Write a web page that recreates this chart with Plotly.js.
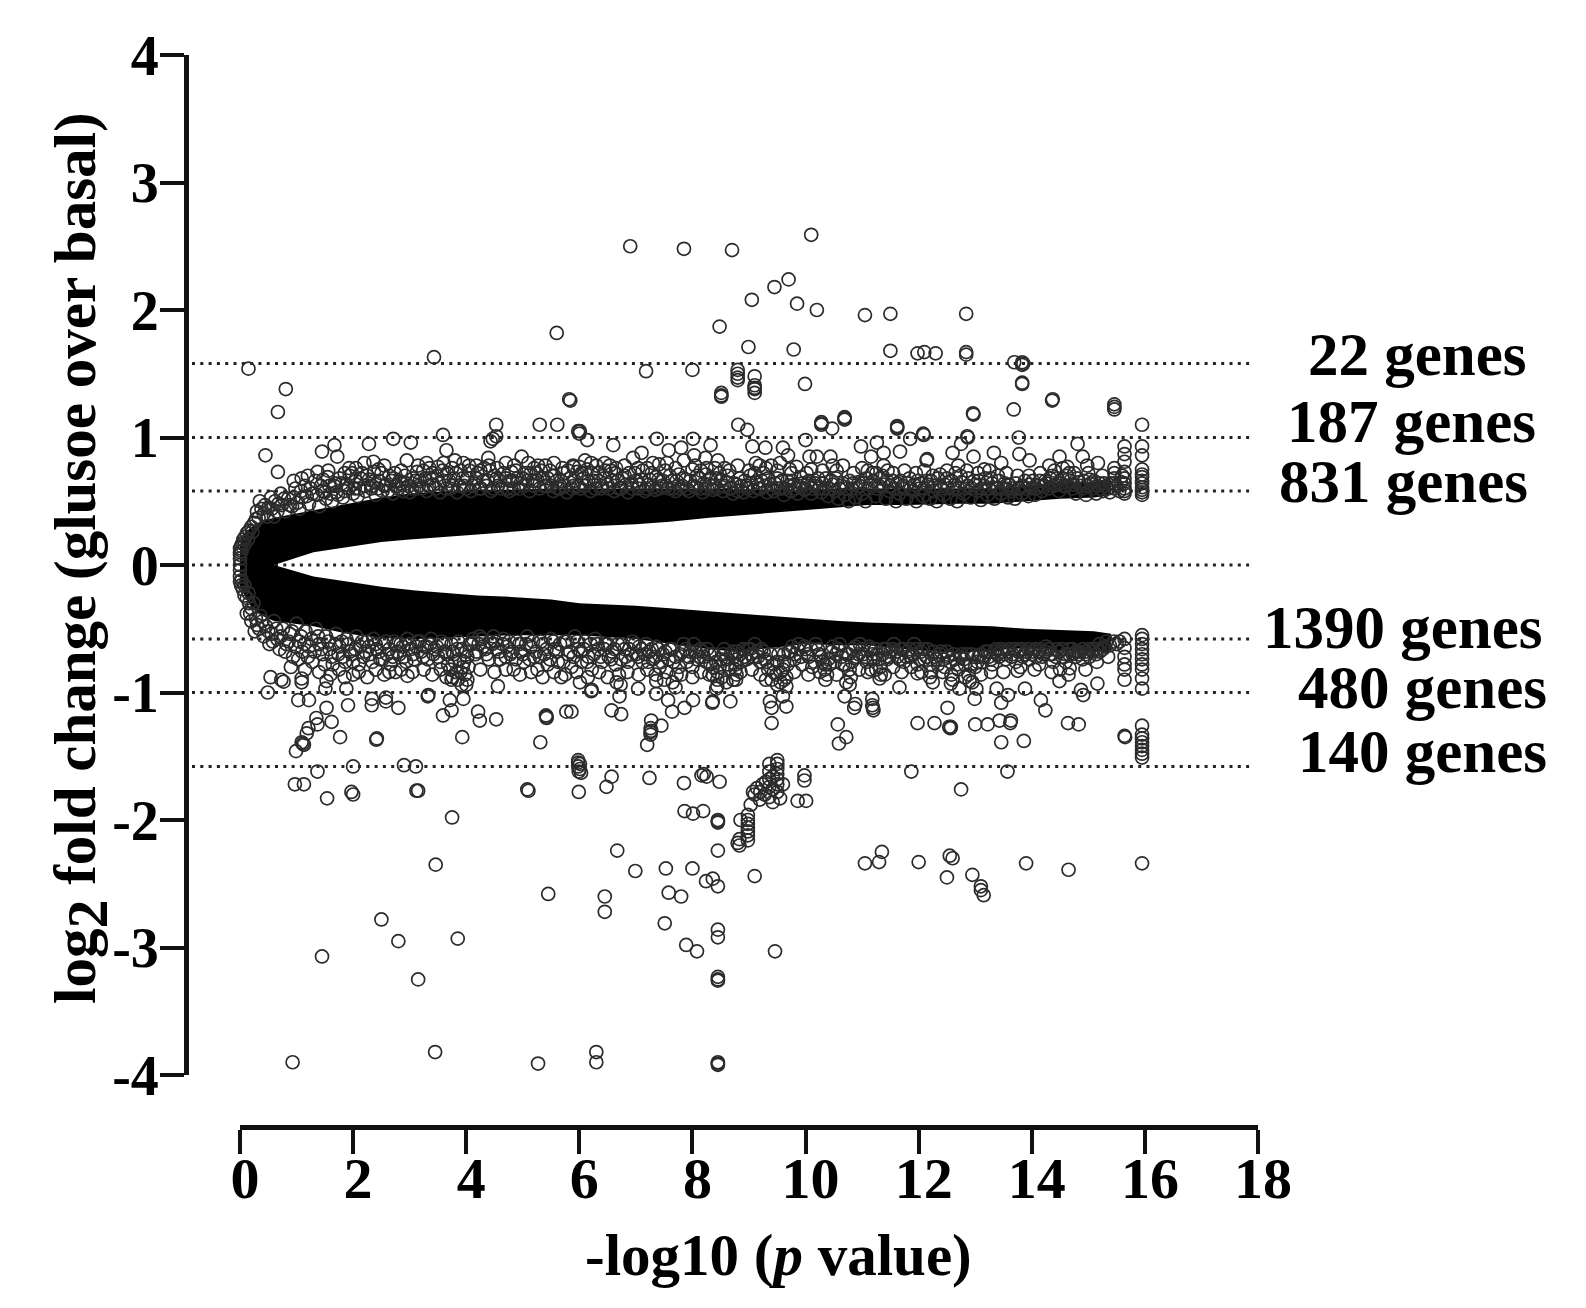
<!DOCTYPE html>
<html><head><meta charset="utf-8">
<script src="https://cdn.plot.ly/plotly-3.0.1.min.js"></script>
<style>html,body{margin:0;padding:0;background:#fff}</style></head>
<body><div id="chart" style="width:1586px;height:1308px"></div>
<script>
// Values
const xTickValues=[0,2,4,6,8,10,12,14,16,18];
const xTickLabels=['0','2','4','6','8','10','12','14','16','18'];
const yTickValues=[4,3,2,1,0,-1,-2,-3,-4];
const yTickLabels=['4','3','2','1','0','-1','-2','-3','-4'];
const thresholds=[1.58,1,0.58,0,-0.58,-1,-1.58];
const geneLabels=['22 genes','187 genes','831 genes','1390 genes','480 genes','140 genes'];
const xAxisTitle='-log10 (<i>p</i> value)';
const yAxisTitle='log<sub><span style="font-size:58px">2</span></sub> fold change (glusoe over basal)';

// Solid masses where the circles merge into black: x, inner edge, outer edge
const bandUpperX=[0.0,0.1,0.3,0.6,1.3,2.0,2.5,3.0,3.7,4.2,4.8,5.5,6.0,7.0,7.6,8.3,9.4,10.0,10.6,11.1,11.8,12.7,13.3,13.9,14.5,15.1,15.4];
const bandUpperIn=[0.0,0.0,0.0,0.0,0.1,0.15,0.18,0.2,0.22,0.24,0.26,0.28,0.3,0.32,0.34,0.37,0.41,0.43,0.45,0.47,0.47,0.48,0.48,0.5,0.52,0.53,0.55];
const bandUpperOut=[0.16,0.26,0.33,0.37,0.43,0.49,0.53,0.56,0.58,0.59,0.59,0.6,0.6,0.6,0.6,0.6,0.59,0.59,0.6,0.6,0.6,0.6,0.6,0.62,0.65,0.65,0.66];
const bandLowerX=[0.0,0.2,0.4,0.6,1.3,1.9,2.5,3.1,3.7,4.2,4.8,5.5,6.0,7.0,7.6,8.3,8.8,9.4,10.0,10.6,11.1,11.8,12.7,13.3,13.9,14.5,15.1,15.4];
const bandLowerIn=[0.0,0.0,0.0,0.0,-0.09,-0.13,-0.17,-0.2,-0.22,-0.24,-0.25,-0.27,-0.3,-0.32,-0.34,-0.36,-0.38,-0.4,-0.42,-0.44,-0.45,-0.46,-0.47,-0.48,-0.5,-0.51,-0.52,-0.54];
const bandLowerOut=[-0.18,-0.33,-0.4,-0.44,-0.48,-0.54,-0.57,-0.58,-0.57,-0.56,-0.55,-0.55,-0.55,-0.58,-0.62,-0.66,-0.68,-0.65,-0.62,-0.63,-0.63,-0.66,-0.69,-0.67,-0.65,-0.67,-0.68,-0.68];

// Individually readable circles, [x, y]
const outliersUp=[[0.15,1.54],[3.43,1.63],[0.81,1.38],[0.67,1.2],[0.45,0.86],[0.67,0.73],[5.6,1.82],[5.82,1.3],[5.84,1.29],[4.53,1.1],[5.3,1.1],[5.61,1.1],[5.98,1.05],[6.0,1.03],[4.53,1.01],[4.43,0.97],[4.47,0.99],[3.59,1.02],[3.65,0.9],[3.02,0.96],[2.71,0.99],[2.28,0.95],[1.67,0.94],[1.45,0.89],[1.72,0.85],[2.36,0.81],[2.37,0.73],[1.37,0.73],[1.09,0.68],[1.47,0.67],[1.68,0.64],[1.93,0.76],[2.71,0.68],[3.3,0.8],[3.13,0.73],[3.5,0.77],[3.95,0.8],[4.18,0.78],[4.39,0.84],[4.98,0.85],[5.27,0.78],[5.52,0.7],[4.8,0.73],[5.89,0.78],
[6.9,2.5],[7.85,2.48],[8.7,2.47],[10.1,2.59],[9.45,2.18],[9.7,2.24],[9.85,2.05],[10.2,2.0],[9.05,2.08],[8.48,1.87],[8.99,1.71],[9.79,1.69],[7.18,1.52],[8.0,1.53],[8.8,1.53],[8.8,1.5],[8.8,1.47],[8.8,1.45],[9.1,1.48],[9.1,1.41],[9.1,1.38],[9.1,1.35],[9.1,1.39],[8.51,1.35],[8.51,1.32],[8.51,1.33],[9.99,1.42],[6.01,1.05],[6.14,0.98],[6.6,0.94],[7.37,0.99],[8.01,0.99],[7.1,0.88],[7.58,0.9],[7.8,0.92],[8.32,0.94],[8.03,0.86],[8.23,0.84],[8.81,1.1],[8.97,1.06],[9.06,0.93],[9.29,0.92],[9.6,0.92],[9.69,0.86],[10.0,0.98],[10.28,1.12],[10.28,1.1],[10.28,1.11],[10.47,1.07],[10.69,1.16],[10.69,1.14],[10.69,1.15],[10.98,0.93],[10.07,0.85],[10.2,0.85],[10.44,0.85],[10.48,0.78],[10.66,0.78],[9.19,0.78],[9.39,0.78],[8.57,0.76],[7.41,0.79],[8.25,0.76],[9.72,0.75],[9.84,0.77],[10.1,0.75],[7.04,0.76],[6.54,0.78],[6.21,0.8],[5.9,0.77],
[11.05,1.96],[11.5,1.97],[11.5,1.68],[11.98,1.66],[12.1,1.67],[12.3,1.66],[12.84,1.97],[12.84,1.67],[12.84,1.65],[13.69,1.59],[13.83,1.59],[13.83,1.57],[13.85,1.58],[13.83,1.43],[13.83,1.42],[14.36,1.29],[14.37,1.3],[12.96,1.19],[12.97,1.18],[13.68,1.22],[15.46,1.26],[15.46,1.24],[15.46,1.22],[15.95,1.1],[11.62,1.09],[11.62,1.07],[11.62,1.08],[11.85,0.99],[12.08,1.03],[12.09,1.02],[12.86,1.01],[12.87,1.0],[13.77,1.0],[14.81,0.95],[11.26,0.96],[11.67,0.89],[11.16,0.85],[11.38,0.88],[12.14,0.82],[12.15,0.83],[12.6,0.88],[12.75,0.95],[12.97,0.85],[13.33,0.88],[13.78,0.87],[13.96,0.82],[14.49,0.85],[14.9,0.85],[14.98,0.78],[15.17,0.8],[15.64,0.93],[15.64,0.87],[15.64,0.81],[15.64,0.73],[15.95,0.93],[15.95,0.86],[15.95,0.75],[15.95,0.69],[15.95,0.64],[15.95,0.59],[15.95,0.55],[15.95,0.71],[15.95,0.66],[15.95,0.61],[15.95,0.57],[15.46,0.76],[12.38,0.71],[11.38,0.78],[12.7,0.78],[13.46,0.8],[13.16,0.75],[14.31,0.78],[14.63,0.77]];
const outliersDown=[[0.54,-0.88],[0.77,-0.915],[0.73,-0.9],[0.49,-1.0],[1.09,-0.89],[1.09,-0.92],[1.53,-0.91],[1.51,-0.97],[2.0,-0.86],[2.96,-0.87],[2.64,-0.84],[1.88,-0.97],[1.03,-1.06],[1.22,-1.06],[1.53,-1.12],[1.91,-1.1],[2.33,-1.05],[2.33,-1.1],[2.58,-1.04],[2.58,-1.07],[2.8,-1.12],[3.32,-1.03],[3.33,-1.02],[3.71,-1.06],[3.74,-1.14],[3.59,-1.18],[3.95,-1.05],[3.74,-0.9],[3.76,-0.88],[4.0,-0.94],[4.56,-0.95],[4.21,-1.15],[4.24,-1.22],[4.53,-1.21],[5.42,-1.19],[5.42,-1.2],[5.41,-1.18],[5.77,-1.15],[5.31,-1.39],[3.93,-1.35],[2.41,-1.37],[2.42,-1.36],[1.77,-1.35],[1.62,-1.23],[1.35,-1.2],[1.37,-1.25],[1.21,-1.28],[1.18,-1.32],[1.09,-1.39],[1.13,-1.41],[1.11,-1.4],[0.99,-1.46],[1.37,-1.62],[1.13,-1.72],[2.0,-1.58],[2.9,-1.57],[3.11,-1.58],[1.97,-1.78],[3.12,-1.77],[5.08,-1.76],[5.98,-1.53],[5.98,-1.58],[5.98,-1.55],[5.99,-1.62],[1.54,-1.83],
[6.21,-0.99],[6.22,-0.98],[6.01,-0.92],[6.57,-1.14],[6.74,-1.17],[7.04,-0.97],[6.71,-1.03],[6.73,-0.94],[7.36,-1.01],[7.36,-0.91],[7.57,-1.06],[7.64,-1.15],[7.86,-1.12],[8.01,-1.06],[7.7,-0.96],[7.27,-1.22],[7.45,-1.26],[7.26,-1.28],[7.26,-1.31],[7.26,-1.33],[7.27,-1.3],[7.2,-1.41],[6.01,-1.56],[6.01,-1.6],[6.03,-1.63],[5.86,-1.15],[8.35,-1.08],[8.36,-1.07],[8.67,-1.07],[8.42,-0.97],[8.44,-0.95],[9.4,-1.24],[9.4,-1.12],[9.37,-1.07],[9.66,-1.11],[9.6,-1.03],[9.66,-0.95],[10.57,-1.25],[10.72,-1.35],[10.59,-1.4],[10.86,-1.12],[10.88,-1.09],[10.69,-1.03],[10.78,-0.94],[8.77,-0.9],[8.36,-0.86],[6.57,-1.66],[7.24,-1.67],[7.85,-1.71],[8.16,-1.65],[8.2,-1.64],[8.25,-1.66],[8.48,-1.7],[9.98,-1.65],
[5.99,-1.78],[6.48,-1.74],[6.67,-2.24],[6.99,-2.4],[7.53,-2.38],[8.0,-2.38],[6.45,-2.6],[6.45,-2.72],[7.58,-2.57],[7.8,-2.6],[7.51,-2.81],[7.89,-2.98],[8.08,-3.03],[8.45,-2.24],[8.24,-2.48],[8.36,-2.46],[8.45,-2.52],[9.1,-2.44],[9.46,-3.03],[8.45,-2.86],[8.45,-2.92],[8.45,-3.23],[8.45,-3.25],[8.45,-3.26],[8.45,-3.9],[8.45,-3.91],[8.45,-3.92],[6.3,-3.82],[6.3,-3.9],[7.86,-1.93],[8.01,-1.95],[8.19,-1.93],[8.45,-2.0],[8.45,-2.02],[8.45,-2.01],[8.85,-2.0],[8.83,-2.2],[8.8,-2.18],[8.83,-2.15],[8.98,-2.16],[8.98,-2.09],[8.98,-2.03],[8.98,-1.96],[8.98,-2.12],[8.98,-2.06],[8.98,-2.0],[9.03,-1.88],[9.19,-1.84],[9.07,-1.78],[9.1,-1.8],[9.14,-1.75],[9.2,-1.78],[9.24,-1.72],[9.3,-1.7],[9.28,-1.8],[9.36,-1.56],[9.36,-1.62],[9.36,-1.68],[9.36,-1.74],[9.36,-1.82],[9.42,-1.66],[9.42,-1.76],[9.42,-1.86],[9.5,-1.53],[9.5,-1.56],[9.5,-1.6],[9.5,-1.64],[9.5,-1.68],[9.5,-1.72],[9.5,-1.78],[9.55,-1.83],[9.6,-1.72],[9.86,-1.85],[10.01,-1.85],[9.98,-1.69],
[11.66,-0.96],[11.18,-1.05],[11.18,-1.1],[11.2,-1.14],[11.19,-1.12],[12.51,-1.12],[11.98,-1.24],[12.28,-1.24],[12.54,-1.27],[12.56,-1.28],[12.57,-1.27],[13.0,-1.25],[13.22,-1.25],[13.43,-1.22],[13.63,-1.22],[13.62,-1.24],[13.46,-1.39],[13.86,-1.38],[11.87,-1.62],[13.57,-1.62],[12.75,-1.76],[12.99,-1.05],[13.02,-0.97],[13.38,-0.97],[13.58,-1.02],[13.46,-1.08],[13.88,-0.97],[14.16,-1.06],[14.24,-1.14],[14.64,-1.24],[14.83,-1.25],[14.87,-0.98],[14.91,-1.02],[15.16,-0.93],[14.49,-0.91],[13.75,-0.83],[14.13,-0.78],[14.67,-0.81],[15.64,-0.9],[15.64,-0.82],[15.64,-0.72],[15.64,-0.58],[15.64,-0.65],[15.64,-0.78],[15.64,-1.34],[15.65,-1.35],[15.95,-1.26],[15.95,-0.97],[15.95,-0.89],[15.95,-0.82],[15.95,-0.78],[15.95,-0.74],[15.95,-0.7],[15.95,-0.66],[15.95,-0.62],[15.95,-0.58],[15.95,-0.55],[15.95,-1.33],[15.95,-1.36],[15.95,-1.39],[15.95,-1.42],[15.95,-1.45],[15.95,-1.48],[15.95,-1.51],[12.25,-0.92],[12.57,-0.93],[12.9,-0.91],[12.72,-0.97],[11.31,-0.89],[11.33,-0.86],[11.98,-0.85],[11.16,-0.82],[11.87,-0.8],
[2.5,-2.78],[2.8,-2.95],[1.45,-3.07],[3.15,-3.25],[3.45,-3.82],[0.93,-3.9],[5.27,-3.91],[3.46,-2.35],[3.85,-2.93],[3.75,-1.98],[3.15,-1.77],[2.0,-1.8],[0.97,-1.72],[5.1,-1.77],[5.45,-2.58],[11.05,-2.34],[11.3,-2.33],[11.35,-2.25],[12.0,-2.33],[12.5,-2.45],[12.55,-2.28],[12.6,-2.3],[12.95,-2.43],[13.1,-2.52],[13.1,-2.55],[13.15,-2.59],[13.9,-2.34],[14.65,-2.39],[15.95,-2.34]];

// Estimated circles in the speckled fringe next to the solid masses, [x, y]
const fringeUp=[[-0.02,0.03],[-0.02,-0.03],[0.0,0.1],[0.02,0.15],[0.06,0.2],[0.12,0.25],[0.2,0.3],[0.28,0.36],[0.3,0.42],[0.35,0.5],[0.42,0.4],[0.5,0.45],[0.55,0.53],[0.6,0.38],[0.68,0.48],[0.72,0.56],[0.8,0.42],[0.85,0.52],[0.92,0.46],[0.98,0.6],[1.05,0.44],[1.1,0.53],[1.15,0.62],[1.22,0.48],[1.28,0.56],[1.33,0.66],[1.4,0.46],[1.46,0.58],[1.52,0.52],[1.58,0.62],[1.63,0.5],[1.7,0.57],[1.76,0.68],[1.82,0.53],[1.88,0.63],[1.94,0.7],[2.0,0.56],[2.05,0.66],[2.1,0.6],[2.16,0.72],[2.22,0.58],[2.28,0.67],[2.34,0.62],[2.4,0.55],[2.46,0.66],[2.52,0.58],[2.58,0.63],[2.64,0.7],[2.7,0.56],[2.76,0.62],[2.82,0.66],[2.88,0.58],[2.94,0.64],[3.0,0.57],[3.06,0.68],[3.12,0.6],[3.18,0.66],[3.24,0.74],[3.3,0.58],[3.36,0.68],[3.42,0.63],[3.48,0.7],[3.54,0.57],[3.6,0.66],[3.66,0.72],[3.72,0.6],[3.78,0.68],[3.84,0.57],[3.9,0.74],[3.96,0.62],[4.02,0.68],[4.08,0.58],[4.14,0.64],[4.2,0.72],[4.26,0.6],[4.32,0.76],[4.38,0.66],[4.44,0.58],[4.5,0.7],[4.56,0.62],[4.62,0.6],[4.7,0.68],[4.76,0.58],[4.82,0.66],[4.88,0.74],[4.94,0.6],[5.0,0.68],[5.06,0.72],[5.12,0.58],[5.18,0.66],[5.24,0.72],[5.3,0.6],[5.36,0.68],[5.42,0.62],[5.48,0.74],[5.54,0.58],[5.6,0.66],[5.66,0.6],[5.72,0.72],[5.78,0.57],[5.84,0.68],[5.9,0.62],[5.96,0.73],[6.02,0.6],[6.08,0.68],[6.14,0.75],[6.2,0.58],[6.26,0.66],[6.32,0.72],[6.38,0.6],[6.44,0.68],[6.5,0.63],[6.56,0.74],[6.62,0.58],[6.68,0.66],[6.74,0.6],[6.8,0.7],[6.86,0.57],[6.92,0.64],[6.98,0.72],[7.04,0.6],[7.1,0.67],[7.16,0.58],[7.22,0.63],[7.28,0.72],[7.34,0.59],[7.4,0.67],[7.46,0.62],[7.52,0.74],[7.58,0.6],[7.64,0.66],[7.7,0.58],[7.76,0.71],[7.82,0.62],[7.88,0.67],[7.94,0.58],[8.0,0.75],[8.06,0.61],[8.12,0.68],[8.18,0.57],[8.24,0.71],[8.3,0.63],[8.36,0.59],[8.42,0.68],[8.48,0.72],[8.54,0.58],[8.6,0.65],[8.66,0.6],[8.72,0.56],[8.78,0.63],[8.84,0.68],[8.9,0.57],[8.96,0.62],[9.02,0.7],[9.08,0.58],[9.14,0.65],[9.2,0.6],[9.26,0.72],[9.32,0.57],[9.38,0.63],[9.44,0.58],[9.5,0.68],[9.56,0.6],[9.62,0.55],[9.68,0.66],[9.74,0.58],[9.8,0.63],[9.86,0.56],[9.92,0.69],[9.98,0.59],[10.04,0.64],[10.1,0.56],[10.16,0.62],[10.22,0.68],[10.28,0.57],[10.34,0.6],[10.4,0.54],[10.46,0.66],[10.52,0.58],[10.58,0.52],[10.64,0.62],[10.7,0.55],[10.76,0.5],[10.82,0.6],[10.88,0.53],[10.94,0.65],[11.0,0.56],[11.06,0.5],[11.12,0.6],[11.18,0.72],[11.24,0.54],[11.3,0.62],[11.36,0.7],[11.42,0.52],[11.48,0.58],[11.54,0.66],[11.6,0.5],[11.66,0.56],[11.72,0.62],[11.78,0.52],[11.84,0.68],[11.9,0.58],[11.96,0.5],[12.02,0.6],[12.08,0.54],[12.14,0.66],[12.2,0.52],[12.26,0.58],[12.32,0.5],[12.38,0.62],[12.44,0.55],[12.5,0.68],[12.56,0.52],[12.62,0.6],[12.68,0.5],[12.74,0.7],[12.8,0.56],[12.86,0.62],[12.92,0.53],[12.98,0.66],[13.04,0.58],[13.1,0.51],[13.16,0.62],[13.22,0.55],[13.28,0.68],[13.34,0.52],[13.4,0.6],[13.46,0.56],[13.52,0.64],[13.58,0.53],[13.64,0.58],[13.7,0.52],[13.76,0.6],[13.82,0.56],[13.88,0.66],[13.94,0.54],[14.0,0.6],[14.06,0.55],[14.12,0.62],[14.18,0.58],[14.24,0.66],[14.3,0.6],[14.36,0.7],[14.42,0.63],[14.48,0.58],[14.54,0.68],[14.6,0.62],[14.66,0.72],[14.72,0.6],[14.78,0.56],[14.84,0.65],[14.9,0.6],[14.96,0.55],[15.02,0.67],[15.08,0.6],[15.14,0.56],[15.2,0.64],[15.26,0.58],[15.32,0.62],[15.38,0.57],[15.46,0.6],[15.46,0.64],[15.46,0.68],[15.64,0.56],[15.64,0.6],[15.64,0.64],[15.64,0.68],[15.55,0.58]];
const fringeUp2=[[0.0,0.0],[0.0,0.05],[0.0,0.08],[0.0,0.13],[0.03,0.11],[0.04,0.17],[0.08,0.16],[0.09,0.22],[0.14,0.2],[0.16,0.27],[0.22,0.26],[0.25,0.33],[0.33,0.37],[0.38,0.44],[0.44,0.47],[0.48,0.38],[0.56,0.44],[0.62,0.5],[0.66,0.42],[0.74,0.47],[0.78,0.52],[0.88,0.47],[0.95,0.53],[1.02,0.49],[1.08,0.58],[1.18,0.54],[1.25,0.6],[1.36,0.55],[1.43,0.62],[1.5,0.57],[1.55,0.69],[1.6,0.56],[1.67,0.62],[1.73,0.55],[1.8,0.64],[1.85,0.58],[1.92,0.6],[1.98,0.72],[2.03,0.6],[2.08,0.54],[2.13,0.68],[2.2,0.62],[2.25,0.7],[2.32,0.6],[2.38,0.66],[2.44,0.6],[2.5,0.72],[2.56,0.62],[2.62,0.58],[2.68,0.66],[2.74,0.72],[2.8,0.6],[2.86,0.64],[2.92,0.7],[2.98,0.62],[3.04,0.6],[3.1,0.66],[3.16,0.62],[3.22,0.6],[3.28,0.68],[3.34,0.62],[3.4,0.72],[3.46,0.6],[3.52,0.64],[3.58,0.74],[3.64,0.6],[3.7,0.66],[3.76,0.62],[3.82,0.72],[3.88,0.62],[3.94,0.68],[4.0,0.6],[4.06,0.74],[4.12,0.62],[4.18,0.68],[4.24,0.6],[4.3,0.66],[4.36,0.62],[4.42,0.74],[4.48,0.6],[4.54,0.68],[4.6,0.66],[4.66,0.72],[4.72,0.6],[4.78,0.66],[4.84,0.6],[4.9,0.68],[4.96,0.64],[5.02,0.62],[5.08,0.66],[5.14,0.72],[5.2,0.62],[5.26,0.66],[5.32,0.74],[5.38,0.62],[5.44,0.68],[5.5,0.62],[5.56,0.7],[5.62,0.6],[5.68,0.66],[5.74,0.62],[5.8,0.74],[5.86,0.6],[5.92,0.66],[5.98,0.62],[6.04,0.72],[6.1,0.62],[6.16,0.66],[6.22,0.72],[6.28,0.6],[6.34,0.66],[6.4,0.62],[6.46,0.74],[6.52,0.6],[6.58,0.66],[6.64,0.72],[6.7,0.6],[6.76,0.68],[6.82,0.63],[6.88,0.72],[6.94,0.6],[7.0,0.66],[7.06,0.63],[7.12,0.74],[7.18,0.6],[7.24,0.67],[7.3,0.61],[7.36,0.69],[7.42,0.6],[7.48,0.66],[7.54,0.62],[7.6,0.7],[7.66,0.6],[7.72,0.66],[7.78,0.6],[7.84,0.68],[7.9,0.6],[7.96,0.66],[8.02,0.62],[8.08,0.7],[8.14,0.6],[8.2,0.64],[8.26,0.6],[8.32,0.68],[8.38,0.62],[8.44,0.6],[8.5,0.66],[8.56,0.62],[8.62,0.7],[8.68,0.6],[8.74,0.64],[8.8,0.58],[8.86,0.62],[8.92,0.66],[8.98,0.6],[9.04,0.64],[9.1,0.72],[9.16,0.6],[9.22,0.66],[9.28,0.62],[9.34,0.68],[9.4,0.6],[9.46,0.64],[9.52,0.6],[9.58,0.66],[9.64,0.6],[9.7,0.62],[9.76,0.66],[9.82,0.6],[9.88,0.62],[9.94,0.64],[10.0,0.6],[10.06,0.66],[10.12,0.6],[10.18,0.64],[10.24,0.6],[10.3,0.64],[10.36,0.68],[10.42,0.6],[10.48,0.63],[10.54,0.68],[10.6,0.6],[10.66,0.64],[10.72,0.6],[10.78,0.66],[10.84,0.64],[10.9,0.6],[10.96,0.62],[11.02,0.64],[11.08,0.68],[11.14,0.63],[11.2,0.66],[11.26,0.6],[11.32,0.68],[11.38,0.63],[11.44,0.66],[11.5,0.62],[11.56,0.6],[11.62,0.64],[11.68,0.66],[11.74,0.6],[11.8,0.64],[11.86,0.6],[11.92,0.63],[11.98,0.66],[12.04,0.64],[12.1,0.6],[12.16,0.63],[12.22,0.66],[12.28,0.62],[12.34,0.68],[12.4,0.6],[12.46,0.63],[12.52,0.6],[12.58,0.66],[12.64,0.63],[12.7,0.6],[12.76,0.65],[12.82,0.6],[12.88,0.68],[12.94,0.6],[13.0,0.63],[13.06,0.66],[13.12,0.6],[13.18,0.68],[13.24,0.6],[13.3,0.64],[13.36,0.6],[13.42,0.66],[13.48,0.6],[13.54,0.6],[13.6,0.63],[13.66,0.6],[13.72,0.64],[13.78,0.6],[13.84,0.62],[13.9,0.6],[13.96,0.63],[14.02,0.66],[14.08,0.6],[14.14,0.66],[14.2,0.62],[14.26,0.64],[14.32,0.68],[14.38,0.62],[14.44,0.68],[14.5,0.64],[14.56,0.62],[14.62,0.7],[14.68,0.66],[14.74,0.63],[14.8,0.68],[14.86,0.62],[14.92,0.66],[14.98,0.62],[15.04,0.64],[15.1,0.66],[15.16,0.62],[15.22,0.6],[15.28,0.64],[15.34,0.6],[15.4,0.64],[15.5,0.62],[15.58,0.65],[15.64,0.58]];
const fringeUp3=[[0.95,0.66],[1.2,0.7],[1.56,0.74],[1.85,0.72],[2.05,0.76],[2.2,0.8],[2.45,0.75],[2.55,0.78],[2.85,0.74],[2.95,0.82],[3.15,0.78],[3.35,0.76],[3.6,0.8],[3.75,0.76],[3.8,0.82],[4.05,0.78],[4.25,0.74],[4.4,0.78],[4.55,0.76],[4.7,0.8],[4.85,0.78],[5.1,0.8],[5.2,0.76],[5.4,0.78],[5.55,0.8],[5.7,0.76],[6.0,0.77],[6.1,0.82],[6.3,0.78],[6.45,0.8],[6.65,0.76],[6.8,0.78],[6.95,0.84],[7.2,0.76],[7.3,0.8],[7.55,0.8],[7.7,0.76],[7.85,0.82],[8.05,0.78],[8.15,0.74],[8.4,0.76],[8.45,0.82],[8.65,0.74],[8.8,0.78],[9.0,0.74],[9.12,0.8],[9.3,0.76],[9.5,0.74],[9.55,0.8],[9.75,0.72],[10.02,0.72],[10.3,0.74],[10.55,0.74],[10.85,0.72],[11.0,0.76],[11.1,0.74],[11.25,0.72],[11.45,0.74],[11.55,0.72],[11.75,0.74],[11.95,0.72],[12.1,0.74],[12.25,0.7],[12.5,0.74],[12.65,0.72],[12.85,0.74],[13.05,0.72],[13.25,0.74],[13.4,0.7],[13.55,0.72],[13.75,0.7],[13.95,0.7],[14.15,0.72],[14.4,0.74],[14.55,0.76],[14.75,0.72],[15.0,0.72],[15.25,0.7],[15.46,0.72],[15.6,0.7]];
const fringeDown=[[0.02,-0.16],[0.08,-0.24],[0.16,-0.3],[0.2,-0.34],[0.12,-0.38],[0.2,-0.44],[0.26,-0.52],[0.3,-0.47],[0.36,-0.4],[0.42,-0.56],[0.46,-0.48],[0.52,-0.62],[0.56,-0.54],[0.6,-0.44],[0.66,-0.58],[0.7,-0.66],[0.76,-0.5],[0.82,-0.62],[0.88,-0.54],[0.94,-0.72],[1.0,-0.46],[1.05,-0.6],[1.1,-0.68],[1.16,-0.52],[1.22,-0.64],[1.28,-0.76],[1.34,-0.5],[1.4,-0.62],[1.46,-0.7],[1.52,-0.56],[1.58,-0.66],[1.64,-0.78],[1.7,-0.54],[1.76,-0.64],[1.82,-0.72],[1.88,-0.58],[1.94,-0.68],[2.0,-0.76],[2.06,-0.56],[2.12,-0.64],[2.18,-0.72],[2.24,-0.6],[2.3,-0.7],[2.36,-0.58],[2.42,-0.66],[2.48,-0.74],[2.54,-0.62],[2.6,-0.7],[2.66,-0.78],[2.72,-0.6],[2.78,-0.68],[2.84,-0.62],[2.9,-0.72],[2.96,-0.58],[3.02,-0.66],[3.08,-0.74],[3.14,-0.6],[3.2,-0.68],[3.26,-0.64],[3.32,-0.74],[3.38,-0.58],[3.44,-0.66],[3.5,-0.72],[3.56,-0.6],[3.62,-0.68],[3.68,-0.78],[3.74,-0.62],[3.78,-0.7],[3.82,-0.84],[3.86,-0.6],[3.88,-0.74],[3.92,-0.66],[3.94,-0.8],[3.98,-0.86],[4.02,-0.72],[4.06,-0.62],[4.12,-0.58],[4.18,-0.68],[4.24,-0.56],[4.3,-0.64],[4.36,-0.7],[4.42,-0.6],[4.48,-0.56],[4.54,-0.66],[4.6,-0.74],[4.66,-0.58],[4.72,-0.64],[4.78,-0.7],[4.84,-0.82],[4.9,-0.6],[4.96,-0.68],[5.02,-0.76],[5.08,-0.56],[5.14,-0.64],[5.2,-0.72],[5.26,-0.82],[5.32,-0.6],[5.38,-0.7],[5.44,-0.78],[5.5,-0.58],[5.56,-0.66],[5.62,-0.76],[5.68,-0.88],[5.74,-0.6],[5.8,-0.7],[5.86,-0.8],[5.92,-0.56],[5.98,-0.66],[6.04,-0.76],[6.1,-0.6],[6.16,-0.72],[6.22,-0.82],[6.28,-0.58],[6.34,-0.66],[6.4,-0.76],[6.46,-0.62],[6.52,-0.72],[6.58,-0.68],[6.64,-0.78],[6.7,-0.86],[6.76,-0.62],[6.82,-0.72],[6.88,-0.66],[6.94,-0.6],[7.0,-0.7],[7.06,-0.64],[7.12,-0.76],[7.18,-0.62],[7.24,-0.68],[7.3,-0.74],[7.36,-0.64],[7.42,-0.8],[7.48,-0.7],[7.54,-0.84],[7.6,-0.66],[7.66,-0.76],[7.72,-0.86],[7.78,-0.7],[7.84,-0.62],[7.9,-0.76],[7.96,-0.68],[8.02,-0.62],[8.08,-0.74],[8.14,-0.66],[8.2,-0.72],[8.26,-0.66],[8.32,-0.78],[8.38,-0.7],[8.44,-0.84],[8.44,-0.9],[8.5,-0.74],[8.56,-0.66],[8.62,-0.78],[8.68,-0.7],[8.74,-0.72],[8.76,-0.78],[8.76,-0.82],[8.78,-0.86],[8.8,-0.68],[8.86,-0.76],[8.92,-0.72],[8.98,-0.66],[9.04,-0.7],[9.1,-0.62],[9.16,-0.72],[9.22,-0.66],[9.28,-0.74],[9.34,-0.82],[9.4,-0.9],[9.44,-0.78],[9.48,-0.86],[9.52,-0.7],[9.56,-0.92],[9.6,-0.82],[9.62,-0.76],[9.66,-0.88],[9.7,-0.68],[9.76,-0.64],[9.82,-0.7],[9.88,-0.62],[9.94,-0.78],[10.0,-0.66],[10.06,-0.72],[10.12,-0.8],[10.18,-0.62],[10.24,-0.7],[10.3,-0.76],[10.34,-0.82],[10.38,-0.86],[10.42,-0.78],[10.48,-0.64],[10.54,-0.7],[10.6,-0.62],[10.66,-0.78],[10.72,-0.7],[10.78,-0.82],[10.8,-0.88],[10.84,-0.66],[10.9,-0.72],[10.96,-0.62],[11.02,-0.7],[11.08,-0.76],[11.14,-0.66],[11.2,-0.74],[11.26,-0.7],[11.32,-0.8],[11.38,-0.66],[11.44,-0.74],[11.5,-0.68],[11.56,-0.62],[11.62,-0.72],[11.68,-0.66],[11.74,-0.76],[11.8,-0.68],[11.86,-0.72],[11.92,-0.62],[11.98,-0.78],[12.04,-0.68],[12.1,-0.74],[12.16,-0.66],[12.22,-0.84],[12.28,-0.72],[12.34,-0.78],[12.4,-0.68],[12.46,-0.8],[12.52,-0.72],[12.58,-0.86],[12.64,-0.74],[12.7,-0.82],[12.76,-0.7],[12.82,-0.78],[12.88,-0.86],[12.94,-0.7],[13.0,-0.8],[13.06,-0.72],[13.12,-0.76],[13.18,-0.68],[13.24,-0.72],[13.3,-0.78],[13.36,-0.66],[13.42,-0.72],[13.48,-0.68],[13.54,-0.74],[13.6,-0.66],[13.66,-0.7],[13.72,-0.76],[13.78,-0.66],[13.84,-0.72],[13.9,-0.68],[13.96,-0.74],[14.02,-0.68],[14.08,-0.72],[14.14,-0.66],[14.2,-0.7],[14.26,-0.64],[14.32,-0.7],[14.38,-0.76],[14.44,-0.66],[14.5,-0.82],[14.54,-0.72],[14.6,-0.76],[14.66,-0.7],[14.72,-0.66],[14.78,-0.72],[14.84,-0.68],[14.9,-0.74],[14.96,-0.68],[15.02,-0.72],[15.08,-0.66],[15.14,-0.7],[15.2,-0.62],[15.26,-0.66],[15.32,-0.6],[15.38,-0.63]];
const fringeDown2=[[0.0,-0.04],[0.0,-0.09],[0.0,-0.13],[0.03,-0.12],[0.05,-0.19],[0.08,-0.16],[0.12,-0.26],[0.15,-0.22],[0.18,-0.38],[0.24,-0.3],[0.28,-0.42],[0.34,-0.5],[0.4,-0.44],[0.5,-0.52],[0.58,-0.6],[0.64,-0.5],[0.72,-0.56],[0.8,-0.68],[0.86,-0.6],[0.92,-0.52],[0.98,-0.64],[1.03,-0.74],[1.08,-0.56],[1.14,-0.62],[1.2,-0.72],[1.26,-0.58],[1.32,-0.68],[1.38,-0.56],[1.44,-0.66],[1.5,-0.78],[1.56,-0.6],[1.62,-0.72],[1.68,-0.62],[1.74,-0.7],[1.8,-0.6],[1.86,-0.76],[1.92,-0.62],[1.98,-0.7],[2.04,-0.66],[2.1,-0.78],[2.16,-0.6],[2.22,-0.68],[2.28,-0.64],[2.34,-0.76],[2.4,-0.62],[2.46,-0.68],[2.52,-0.74],[2.58,-0.6],[2.64,-0.66],[2.7,-0.72],[2.76,-0.62],[2.82,-0.7],[2.88,-0.64],[2.94,-0.76],[3.0,-0.62],[3.06,-0.7],[3.12,-0.64],[3.18,-0.6],[3.24,-0.72],[3.3,-0.64],[3.36,-0.62],[3.42,-0.7],[3.48,-0.64],[3.54,-0.76],[3.6,-0.62],[3.66,-0.7],[3.72,-0.82],[3.76,-0.68],[3.8,-0.76],[3.84,-0.66],[3.9,-0.84],[3.96,-0.76],[4.0,-0.68],[4.04,-0.8],[4.1,-0.62],[4.16,-0.7],[4.22,-0.62],[4.28,-0.58],[4.34,-0.66],[4.4,-0.74],[4.46,-0.62],[4.52,-0.6],[4.58,-0.68],[4.64,-0.62],[4.7,-0.72],[4.76,-0.6],[4.82,-0.68],[4.88,-0.74],[4.94,-0.62],[5.0,-0.7],[5.06,-0.62],[5.12,-0.74],[5.18,-0.6],[5.24,-0.68],[5.3,-0.72],[5.36,-0.62],[5.42,-0.66],[5.48,-0.74],[5.54,-0.6],[5.6,-0.68],[5.66,-0.62],[5.72,-0.76],[5.78,-0.6],[5.84,-0.68],[5.9,-0.72],[5.96,-0.6],[6.02,-0.68],[6.08,-0.66],[6.14,-0.76],[6.2,-0.62],[6.26,-0.7],[6.32,-0.62],[6.38,-0.72],[6.44,-0.66],[6.5,-0.62],[6.56,-0.74],[6.62,-0.66],[6.68,-0.62],[6.74,-0.74],[6.8,-0.66],[6.86,-0.76],[6.92,-0.7],[6.98,-0.62],[7.04,-0.72],[7.1,-0.66],[7.16,-0.7],[7.22,-0.76],[7.28,-0.66],[7.34,-0.72],[7.4,-0.66],[7.46,-0.76],[7.52,-0.68],[7.58,-0.74],[7.64,-0.66],[7.7,-0.72],[7.76,-0.8],[7.82,-0.68],[7.88,-0.66],[7.94,-0.72],[8.0,-0.8],[8.06,-0.68],[8.12,-0.72],[8.18,-0.68],[8.24,-0.76],[8.3,-0.7],[8.36,-0.8],[8.42,-0.76],[8.48,-0.8],[8.54,-0.7],[8.6,-0.74],[8.66,-0.82],[8.72,-0.68],[8.78,-0.74],[8.84,-0.7],[8.9,-0.66],[8.96,-0.74],[9.02,-0.66],[9.08,-0.72],[9.14,-0.68],[9.2,-0.76],[9.26,-0.68],[9.32,-0.76],[9.38,-0.7],[9.44,-0.84],[9.5,-0.76],[9.56,-0.84],[9.62,-0.7],[9.68,-0.78],[9.74,-0.68],[9.8,-0.74],[9.86,-0.66],[9.92,-0.72],[9.98,-0.64],[10.04,-0.7],[10.1,-0.66],[10.16,-0.76],[10.22,-0.66],[10.28,-0.72],[10.34,-0.78],[10.4,-0.74],[10.46,-0.68],[10.52,-0.76],[10.58,-0.66],[10.64,-0.72],[10.7,-0.78],[10.76,-0.7],[10.82,-0.76],[10.88,-0.64],[10.94,-0.7],[11.0,-0.66],[11.06,-0.72],[11.12,-0.64],[11.18,-0.7],[11.24,-0.66],[11.3,-0.74],[11.36,-0.7],[11.42,-0.66],[11.48,-0.72],[11.54,-0.66],[11.6,-0.68],[11.66,-0.74],[11.72,-0.66],[11.78,-0.72],[11.84,-0.66],[11.9,-0.7],[11.96,-0.66],[12.02,-0.74],[12.08,-0.66],[12.14,-0.72],[12.2,-0.78],[12.26,-0.68],[12.32,-0.74],[12.38,-0.7],[12.44,-0.74],[12.5,-0.68],[12.56,-0.76],[12.62,-0.7],[12.68,-0.78],[12.74,-0.72],[12.8,-0.74],[12.86,-0.7],[12.92,-0.78],[12.98,-0.72],[13.04,-0.76],[13.1,-0.7],[13.16,-0.72],[13.22,-0.68],[13.28,-0.74],[13.34,-0.68],[13.4,-0.7],[13.46,-0.66],[13.52,-0.7],[13.58,-0.68],[13.64,-0.72],[13.7,-0.66],[13.76,-0.68],[13.82,-0.66],[13.88,-0.7],[13.94,-0.66],[14.0,-0.7],[14.06,-0.66],[14.12,-0.68],[14.18,-0.72],[14.24,-0.68],[14.3,-0.66],[14.36,-0.7],[14.42,-0.72],[14.48,-0.68],[14.54,-0.66],[14.6,-0.7],[14.66,-0.66],[14.72,-0.7],[14.78,-0.68],[14.84,-0.7],[14.9,-0.66],[14.96,-0.7],[15.02,-0.66],[15.08,-0.68],[15.14,-0.66],[15.2,-0.68],[15.3,-0.64],[15.45,-0.6],[15.5,-0.62],[15.55,-0.6]];
const fringeDown3=[[0.9,-0.8],[1.15,-0.82],[1.4,-0.84],[1.6,-0.86],[1.75,-0.82],[1.85,-0.88],[2.1,-0.84],[2.25,-0.88],[2.4,-0.82],[2.55,-0.86],[2.75,-0.84],[2.85,-0.82],[3.05,-0.84],[3.25,-0.82],[3.4,-0.86],[3.55,-0.82],[3.65,-0.88],[3.85,-0.9],[3.92,-0.94],[4.02,-0.9],[4.25,-0.82],[4.5,-0.84],[4.7,-0.82],[4.95,-0.86],[5.15,-0.84],[5.35,-0.88],[5.55,-0.84],[5.75,-0.86],[5.95,-0.84],[6.15,-0.88],[6.35,-0.84],[6.5,-0.88],[6.66,-0.92],[6.85,-0.84],[7.05,-0.86],[7.2,-0.82],[7.35,-0.86],[7.5,-0.9],[7.65,-0.92],[7.8,-0.86],[8.0,-0.88],[8.15,-0.84],[8.3,-0.86],[8.52,-0.88],[8.6,-0.92],[8.72,-0.9],[8.85,-0.84],[9.05,-0.82],[9.2,-0.86],[9.3,-0.9],[9.5,-0.94],[9.62,-0.9],[9.8,-0.84],[10.05,-0.86],[10.25,-0.84],[10.35,-0.9],[10.55,-0.86],[10.72,-0.92],[10.95,-0.82],[11.1,-0.84],[11.25,-0.82],[11.4,-0.86],[11.55,-0.8],[11.7,-0.84],[12.05,-0.84],[12.2,-0.88],[12.42,-0.84],[12.6,-0.9],[12.82,-0.88],[12.95,-0.92],[13.1,-0.86],[13.28,-0.84],[13.5,-0.84],[13.8,-0.8],[14.05,-0.82],[14.35,-0.84],[14.65,-0.86],[14.95,-0.82],[15.15,-0.76],[15.35,-0.72]];

const circleStyle={symbol:'circle-open',size:13,color:'#2b2b2b',line:{width:1.7,color:'#2b2b2b'}};
const serif='"Liberation Serif", "Times New Roman", serif';
const col=(a,i)=>a.map(p=>p[i]);
const band=(xs,a,b)=>({x:xs.concat(xs.slice().reverse()),y:a.concat(b.slice().reverse()),mode:'lines',fill:'toself',fillcolor:'#000',line:{width:0,color:'#000'},hoverinfo:'skip',showlegend:false,cliponaxis:false});
const dots=pts=>({x:col(pts,0),y:col(pts,1),mode:'markers',type:'scatter',marker:circleStyle,cliponaxis:false,showlegend:false});

const L=186,R=1258,T=55,B=1127,W=1586,H=1308,pw=R-L;
const labelBoxes=[[1528,375],[1537,442],[1529,502],[1544,648],[1548,708],[1548,772]];
const annotations=geneLabels.map((t,i)=>({text:t,xref:'paper',yref:'paper',xanchor:'right',yanchor:'bottom',
  x:(labelBoxes[i][0]-L)/pw,y:(B-labelBoxes[i][1]-14)/(B-T),showarrow:false,borderpad:0,
  font:{family:serif,size:61,weight:'bold',color:'#000'}}));
annotations.push({text:xAxisTitle,xref:'paper',yref:'paper',xanchor:'center',yanchor:'middle',x:(779-L)/pw,y:(B-1255)/(B-T),showarrow:false,
  font:{family:serif,size:59,weight:'bold',color:'#000'}});
annotations.push({text:yAxisTitle,xref:'paper',yref:'paper',xanchor:'center',yanchor:'middle',textangle:-90,x:(81-L)/pw,y:(B-558)/(B-T),showarrow:false,
  font:{family:serif,size:59,weight:'bold',color:'#000'}});
const shapes=thresholds.map(v=>({type:'line',xref:'paper',yref:'y',x0:(192-L)/pw,x1:(1253-L)/pw,y0:v,y1:v,layer:'below',
  line:{color:'#222',width:3,dash:'3px,5.3px'}}));

Plotly.newPlot('chart',[band(bandUpperX,bandUpperIn,bandUpperOut),band(bandLowerX,bandLowerIn,bandLowerOut),dots(fringeUp3),dots(fringeUp),dots(fringeUp2),dots(fringeDown3),dots(fringeDown),dots(fringeDown2),dots(outliersUp),dots(outliersDown)],{
  width:W,height:H,paper_bgcolor:'#fff',plot_bgcolor:'#fff',showlegend:false,
  margin:{l:L,r:W-R,t:T,b:H-B,pad:0},
  font:{family:serif,color:'#000'},
  xaxis:{domain:[(240-L)/pw,1],range:[0,18],anchor:'free',position:0,showgrid:false,zeroline:false,showline:true,linecolor:'#111',linewidth:5,
    ticks:'outside',ticklen:24,tickwidth:4,tickcolor:'#111',tickmode:'array',tickvals:xTickValues,ticktext:xTickLabels,ticklabelshift:5,ticklabelstandoff:-26,
    tickfont:{family:serif,size:58,weight:'bold',color:'#000'},tickangle:0},
  yaxis:{domain:[(B-1075)/(B-T),1],range:[-4,4],anchor:'free',position:0,showgrid:false,zeroline:false,showline:true,linecolor:'#111',linewidth:5,
    ticks:'outside',ticklen:24,tickwidth:4,tickcolor:'#111',tickmode:'array',tickvals:yTickValues,ticktext:yTickLabels,ticklabelstandoff:-10,
    tickfont:{family:serif,size:56,weight:'bold',color:'#000'}},
  annotations,shapes
},{displayModeBar:false,responsive:false});
</script></body></html>
